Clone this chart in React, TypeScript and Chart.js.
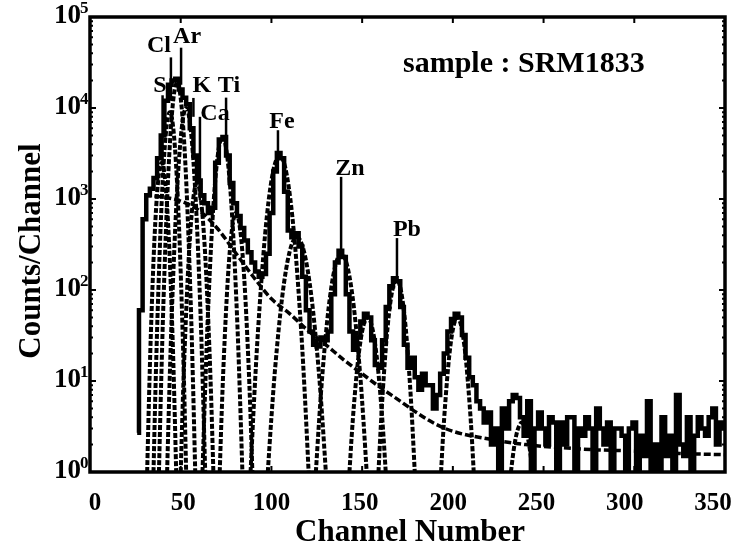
import React, { useEffect, useRef } from "react";
import { Chart, registerables } from "chart.js";

Chart.register(...registerables);

// ---------- data ----------
const spectrumStartChannel = 26;
const spectrumChannelStep = 2;
const spectrumCounts = [
  2.7, 60, 600, 1100, 1300, 1700, 2800, 5000, 12000, 18000, 20000, 21000,
  16000, 13000, 11000, 6000, 3000, 1600, 1100, 900, 700, 800, 2500, 4500,
  4800, 3000, 1500, 900, 650, 480, 350, 260, 200, 160, 140, 150,
  250, 700, 2000, 3200, 2800, 1200, 450, 380, 420, 300, 140, 60,
  35, 25, 24, 30, 28, 35, 90, 200, 270, 230, 90, 35,
  22, 30, 45, 55, 50, 28, 15, 14, 28, 65, 110, 135,
  125, 65, 25, 14, 18, 11, 8, 12, 9, 9, 5, 7,
  12, 20, 35, 48, 55, 50, 32, 18, 11, 9, 6, 5,
  3.5, 4.5, 2, 3, 1, 5, 3, 6, 7, 6.5, 4, 2.5,
  6, 1, 3, 4.5, 3, 2, 4, 3.5, 1, 3.5, 2, 4,
  4, 1, 3, 2.5, 4, 3, 1, 5, 3, 2, 3.5, 1,
  3, 3, 2.5, 1, 3, 3.5, 1, 2.5, 1.5, 6, 1, 2,
  1, 4, 1.5, 2.5, 1, 7, 2, 1.5, 4, 1, 2.5, 4,
  3, 2.5, 4, 5, 2, 3.5, 3,
];

// fitted peak components: [channel, counts]
const peakS = [[31.5, 1], [32.5, 6.2], [33.5, 31], [35.5, 353], [37.5, 1535], [39.5, 2500], [41.5, 1535], [43.5, 353], [45.5, 31], [46.5, 6.2], [47.5, 1]];
const peakCl = [[35, 1], [36.1, 8.4], [37.25, 54], [39.5, 924], [41.75, 5090], [44, 9000], [46.25, 5090], [48.5, 924], [50.75, 54], [51.9, 8.4], [53, 1]];
const peakAr = [[38, 1], [39.25, 10], [40.5, 75], [43, 1620], [45.5, 10260], [48, 19000], [50.5, 10260], [53, 1620], [55.5, 75], [56.75, 10], [58, 1]];
const peakK = [[42.5, 1], [43.8, 8.6], [45.1, 56], [47.75, 1000], [50.4, 5620], [53, 10000], [55.6, 5620], [58.25, 1000], [60.9, 56], [62.2, 8.6], [63.5, 1]];
const peakCa = [[50, 1], [51.1, 5.5], [52.25, 24.5], [54.5, 241], [56.75, 950], [59, 1500], [61.25, 950], [63.5, 241], [65.75, 24.5], [66.9, 5.5], [68, 1]];
const peakTi = [[62, 1], [63.4, 7.3], [64.75, 41], [67.5, 577], [70.25, 2825], [73, 4800], [75.75, 2825], [78.5, 577], [81.25, 41], [82.6, 7.3], [84, 1]];
const peakTiKb = [[71.5, 1], [72.6, 4.6], [73.75, 17.6], [76, 136], [78.25, 465], [80.5, 700], [82.75, 465], [85, 136], [87.25, 17.6], [88.4, 4.6], [89.5, 1]];
const peakFe = [[88.5, 1], [90.5, 6.5], [92.5, 33], [96.5, 405], [100.5, 1820], [104.5, 3000], [108.5, 1820], [112.5, 405], [116.5, 33], [118.5, 6.5], [120.5, 1]];
const peakFeKb = [[98, 1], [100, 4], [102, 13.5], [106, 86], [110, 262], [114, 380], [118, 262], [122, 86], [126, 13.5], [128, 4], [130, 1]];
const peakZn = [[124.5, 1], [126.25, 3.6], [128, 11.2], [131.5, 63], [135, 177], [138.5, 250], [142, 177], [145.5, 63], [149, 11.2], [150.75, 3.6], [152.5, 1]];
const peakZnKb = [[143, 1], [144.25, 2.5], [145.5, 5.5], [148, 18.8], [150.5, 39], [153, 50], [155.5, 39], [158, 18.8], [160.5, 5.5], [161.75, 2.5], [163, 1]];
const peakPbLa = [[159, 1], [160.25, 3.1], [161.5, 8.4], [164, 38.5], [166.5, 96], [169, 130], [171.5, 96], [174, 38.5], [176.5, 8.4], [177.75, 3.1], [179, 1]];
const peakPbLb = [[193.5, 1], [194.6, 2.5], [195.75, 5.5], [198, 18.8], [200.25, 39], [202.5, 50], [204.75, 39], [207, 18.8], [209.25, 5.5], [210.4, 2.5], [211.5, 1]];
const peakSmall = [[232, 1], [233.5, 1.73], [235, 2.56], [236.5, 3.2], [238, 3.5], [239.5, 3.2], [241, 2.56], [242.5, 1.73], [244, 1]];
const peakComponents = [peakS, peakCl, peakAr, peakK, peakCa, peakTi, peakTiKb, peakFe, peakFeKb, peakZn, peakZnKb, peakPbLa, peakPbLb, peakSmall];

// continuum background
const bgChannels = [30, 40, 50, 60, 70, 80, 90, 100, 110, 120, 130, 140, 150, 160, 170, 180, 190, 200, 220, 240, 260, 280, 300, 325, 350];
const bgValues = [1100, 1050, 950, 750, 480, 260, 140, 80, 55, 36, 25, 17, 12, 8.5, 6.2, 4.5, 3.4, 2.8, 2.3, 2.0, 1.85, 1.75, 1.7, 1.6, 1.55];

// element markers
const elementNames = ["S", "Cl", "Ar", "K", "Ca", "Ti", "Fe", "Zn", "Pb"];
const elementLineCh = [40, 44.6, 50.2, 57, 60.6, 75, 103.6, 138.4, 169.2];
const elementLineTop = [13800, 36000, 46000, 12900, 8000, 13000, 5700, 1750, 372];
const elementLineBottom = [2350, 12000, 18000, 8000, 970, 5000, 3300, 275, 139];
const elementLabelCh = [38.6, 38.0, 53.5, 61.7, 68.9, 76.6, 105.8, 143.3, 174.7];
const elementLabelVal = [15000, 41200, 51800, 15000, 7380, 15000, 6030, 1835, 392];

const xTickValues = [0, 50, 100, 150, 200, 250, 300, 350];
const yDecadeExponents = [0, 1, 2, 3, 4, 5];

const sampleText = "sample : SRM1833";
const xTitle = "Channel Number";
const yTitle = "Counts/Channel";

const FONT = '"Liberation Serif", "Times New Roman", serif';

const overlayPlugin = {
  id: "overlay",
  afterDatasetsDraw(chart: any) {
    const { ctx, chartArea: a, scales } = chart;
    const xs = scales.x;
    const ys = scales.y;
    ctx.save();
    ctx.fillStyle = "#000";
    ctx.strokeStyle = "#000";

    // frame
    ctx.lineWidth = 3.5;
    ctx.strokeRect(a.left, a.top, a.right - a.left, a.bottom - a.top);

    // major x ticks (top & bottom, inward)
    ctx.lineWidth = 2;
    xTickValues.forEach((v) => {
      const px = xs.getPixelForValue(v);
      ctx.beginPath();
      ctx.moveTo(px, a.top);
      ctx.lineTo(px, a.top + 6);
      ctx.moveTo(px, a.bottom);
      ctx.lineTo(px, a.bottom - 6);
      ctx.stroke();
    });
    // y ticks (left & right, inward), with minor ticks
    yDecadeExponents.forEach((e) => {
      for (let m = 1; m <= 9; m++) {
        const v = m * Math.pow(10, e);
        if (v > 100000) break;
        const py = ys.getPixelForValue(v);
        const len = m === 1 ? 6 : 3;
        ctx.beginPath();
        ctx.moveTo(a.left, py);
        ctx.lineTo(a.left + len, py);
        ctx.moveTo(a.right, py);
        ctx.lineTo(a.right - len, py);
        ctx.stroke();
      }
    });

    // element marker lines
    ctx.lineWidth = 2.5;
    elementNames.forEach((_, i) => {
      const px = xs.getPixelForValue(elementLineCh[i]);
      ctx.beginPath();
      ctx.moveTo(px, ys.getPixelForValue(elementLineTop[i]));
      ctx.lineTo(px, ys.getPixelForValue(elementLineBottom[i]));
      ctx.stroke();
    });
    // element labels
    ctx.font = `bold 24px ${FONT}`;
    ctx.textAlign = "center";
    ctx.textBaseline = "alphabetic";
    elementNames.forEach((name, i) => {
      ctx.fillText(name, xs.getPixelForValue(elementLabelCh[i]), ys.getPixelForValue(elementLabelVal[i]));
    });

    // sample annotation
    ctx.font = `bold 30px ${FONT}`;
    ctx.textAlign = "left";
    ctx.fillText(sampleText, 403, 72);

    // x tick labels
    ctx.font = `bold 25px ${FONT}`;
    ctx.textAlign = "center";
    xTickValues.forEach((v) => {
      const px = xs.getPixelForValue(v) + 5 - 17 * (v / 350);
      ctx.fillText(String(v), px, 510);
    });

    // y tick labels 10^n
    yDecadeExponents.forEach((e) => {
      const py = ys.getPixelForValue(Math.pow(10, e));
      ctx.font = `bold 27px ${FONT}`;
      ctx.textAlign = "right";
      ctx.textBaseline = "middle";
      ctx.fillText("10", 81, py - 1);
      ctx.font = `bold 17px ${FONT}`;
      ctx.textAlign = "left";
      ctx.textBaseline = "alphabetic";
      ctx.fillText(String(e), 80, py - 4);
    });

    // axis titles
    ctx.font = `bold 31px ${FONT}`;
    ctx.textAlign = "center";
    ctx.textBaseline = "alphabetic";
    ctx.fillText(xTitle, 410, 541);
    ctx.translate(40, 251);
    ctx.rotate(-Math.PI / 2);
    ctx.fillText(yTitle, 0, 0);
    ctx.restore();
  },
};

export default function App() {
  const ref = useRef<HTMLCanvasElement | null>(null);
  useEffect(() => {
    if (!ref.current) return;
    const spectrumData = spectrumCounts.map((c, i) => ({ x: spectrumStartChannel + i * spectrumChannelStep, y: c }));
    const peakSets = peakComponents.map((pk) => ({
      data: pk.map(([x, y]) => ({ x, y })),
      borderColor: "#000",
      borderWidth: 4,
      borderDash: [5, 2],
      pointRadius: 0,
      cubicInterpolationMode: "monotone" as const,
      fill: false,
    }));
    const chart = new Chart(ref.current, {
      type: "line",
      data: {
        datasets: [
          {
            data: spectrumData,
            borderColor: "#000",
            borderWidth: 4.5,
            pointRadius: 0,
            stepped: "middle" as any,
            fill: false,
          },
          ...peakSets,
          {
            data: bgChannels.map((x, i) => ({ x, y: bgValues[i] })),
            borderColor: "#000",
            borderWidth: 3.5,
            borderDash: [7, 3],
            pointRadius: 0,
            cubicInterpolationMode: "monotone" as const,
            fill: false,
          },
        ],
      },
      options: {
        animation: false,
        responsive: false,
        events: [],
        layout: { padding: { left: 90, top: 17, right: 16, bottom: 75 } },
        plugins: { legend: { display: false }, tooltip: { enabled: false } },
        scales: {
          x: { type: "linear", min: 0, max: 350, display: false },
          y: { type: "logarithmic", min: 1, max: 100000, display: false },
        },
      },
      plugins: [overlayPlugin],
    });
    return () => chart.destroy();
  }, []);
  return (
    <div style={{ position: "absolute", left: 0, top: 0, width: 741, height: 547, background: "#fff" }}>
      <canvas ref={ref} width={741} height={547} style={{ display: "block" }} />
    </div>
  );
}
